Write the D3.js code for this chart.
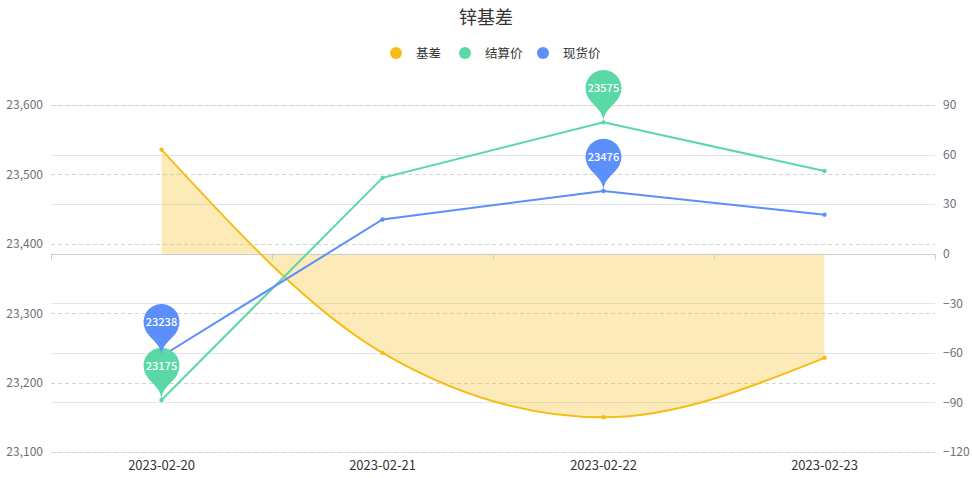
<!DOCTYPE html>
<html><head><meta charset="utf-8">
<script src="https://cdn.jsdelivr.net/npm/d3@7/dist/d3.min.js"></script>
<style>
html,body{margin:0;padding:0;background:#fff;}
text{font-family:"Noto Sans CJK SC","Noto Sans",sans-serif;}
</style></head>
<body><svg id="c" width="972" height="478"></svg>
<script>
const title = "锌基差";
const categories = ["2023-02-20","2023-02-21","2023-02-22","2023-02-23"];
const seriesNames = ["基差","结算价","现货价"];
const basis = [63, -60, -99, -63];
const settle = [23175, 23495, 23575, 23505];
const spot = [23238, 23435, 23476, 23442];
const leftTicks = [23100, 23200, 23300, 23400, 23500, 23600];
const rightTicks = [-120, -90, -60, -30, 0, 30, 60, 90];
const colors = ["#F6BD16", "#5AD8A6", "#5B8FF9"];

const svg = d3.select("#c");
const L = 51, R = 935, T = 105, B = 452;

const x = d3.scaleBand().domain(categories).range([L, R]);
const xc = d => x(d) + x.bandwidth()/2;
const yL = d3.scaleLinear().domain([23100, 23600]).range([B, T]);
const yR = d3.scaleLinear().domain([-120, 90]).range([B, T]);

// title
svg.append("text").attr("x", 486).attr("y", 24).attr("text-anchor","middle")
  .attr("font-size", 18).attr("fill", "#333").text(title);

// legend
const legX = [396, 465, 543];
seriesNames.forEach((n,i)=>{
  svg.append("circle").attr("cx", legX[i]).attr("cy", 53).attr("r", 6).attr("fill", colors[i]);
  svg.append("text").attr("x", legX[i]+20).attr("y", 57.5).attr("font-size", 12.5).attr("fill","#333").text(n);
});

// right axis grid (solid)
svg.append("g").selectAll("line").data(rightTicks).join("line")
  .attr("x1", L).attr("x2", R).attr("y1", d=>Math.round(yR(d))+0.5).attr("y2", d=>Math.round(yR(d))+0.5)
  .attr("stroke", "#E0E6F1").attr("stroke-width", 1);
// left axis grid (dashed)
svg.append("g").selectAll("line").data(leftTicks).join("line")
  .attr("x1", L).attr("x2", R).attr("y1", d=>Math.round(yL(d))+0.5).attr("y2", d=>Math.round(yL(d))+0.5)
  .attr("stroke", "#D4D4D4").attr("stroke-width", 1).attr("stroke-dasharray", "4,3");

// axis labels
const axL = svg.append("g").attr("transform", `translate(${L},0)`)
  .call(d3.axisLeft(yL).tickValues(leftTicks).tickSize(0).tickPadding(8).tickFormat(d3.format(",")));
axL.select(".domain").remove();
axL.selectAll("text").attr("font-size", 12).attr("fill", "#6E7079").attr("font-family","'Noto Sans CJK SC','Noto Sans',sans-serif");
const axR = svg.append("g").attr("transform", `translate(${R},0)`)
  .call(d3.axisRight(yR).tickValues(rightTicks).tickSize(0).tickPadding(8));
axR.select(".domain").remove();
axR.selectAll("text").attr("font-size", 12).attr("fill", "#6E7079").attr("font-family","'Noto Sans CJK SC','Noto Sans',sans-serif");

// basis area
const idx = d3.range(categories.length);
const area = d3.area().x(i=>xc(categories[i])).y0(yR(0)).y1(i=>yR(basis[i])).curve(d3.curveMonotoneX);
svg.append("path").attr("d", area(idx)).attr("fill", colors[0]).attr("fill-opacity", 0.3);

// x axis
const y0 = Math.round(yR(0)) + 0.5;
const axX = svg.append("g").attr("transform", `translate(0,${y0})`)
  .call(d3.axisBottom(x).tickSize(0).tickPadding(0));
axX.select(".domain").attr("stroke", "#CCCCCC").attr("d", `M${L},0H${R}`);
axX.selectAll("text").attr("font-size", 13).attr("fill", "#333")
  .attr("font-family","'Noto Sans CJK SC','Noto Sans',sans-serif")
  .attr("dy", null)
  .attr("y", 470 - y0);
const bounds = categories.map(c=>x(c)).concat([R]);
axX.selectAll(".bt").data(bounds).join("line").attr("class","bt")
  .attr("x1", d=>Math.round(d)+0.5).attr("x2", d=>Math.round(d)+0.5).attr("y1", 0).attr("y2", 5)
  .attr("stroke", "#CCCCCC");

// lines
function drawLine(vals, yS, color, curve){
  const line = d3.line().x(i=>xc(categories[i])).y(i=>yS(vals[i])).curve(curve);
  svg.append("path").attr("d", line(idx)).attr("fill","none").attr("stroke", color).attr("stroke-width", 2);
  svg.append("g").selectAll("circle").data(idx).join("circle")
    .attr("cx", i=>xc(categories[i])).attr("cy", i=>yS(vals[i])).attr("r", 2.2).attr("fill", color);
}
drawLine(basis, yR, colors[0], d3.curveMonotoneX);
drawLine(settle, yL, colors[1], d3.curveLinear);
drawLine(spot, yL, colors[2], d3.curveLinear);

// pin markers (ECharts-style pin)
function pinPath(px, py, size){
  const w = size/5*3, h = Math.max(w, size), r = w/2;
  const dy = r*r/(h-r);
  const cy = py - h + r + dy;
  const ang = Math.asin(dy/r);
  const dx = Math.cos(ang)*r;
  const tanX = Math.sin(ang), tanY = Math.cos(ang);
  const cp = r*0.6, cp2 = r*0.7;
  const p = d3.path();
  p.moveTo(px - dx, cy + dy);
  p.arc(px, cy, r, Math.PI - ang, Math.PI*2 + ang);
  p.bezierCurveTo(px + dx - tanX*cp, cy + dy + tanY*cp, px, py - cp2, px, py);
  p.bezierCurveTo(px, py - cp2, px - dx + tanX*cp, cy + dy + tanY*cp, px - dx, cy + dy);
  p.closePath();
  return {d: p.toString(), cy};
}
function drawPins(vals, color){
  const iMax = d3.maxIndex(vals), iMin = d3.minIndex(vals);
  [iMax, iMin].forEach(i=>{
    const px = xc(categories[i]), py = yL(vals[i]);
    const pp = pinPath(px, py, 60);
    svg.append("path").attr("d", pp.d).attr("fill", color);
    svg.append("text").attr("x", px).attr("y", pp.cy + 4).attr("text-anchor","middle")
      .attr("font-size", 11).attr("fill","#fff").attr("font-weight", 500).text(vals[i]);
  });
}
drawPins(settle, colors[1]);
drawPins(spot, colors[2]);
</script></body></html>
